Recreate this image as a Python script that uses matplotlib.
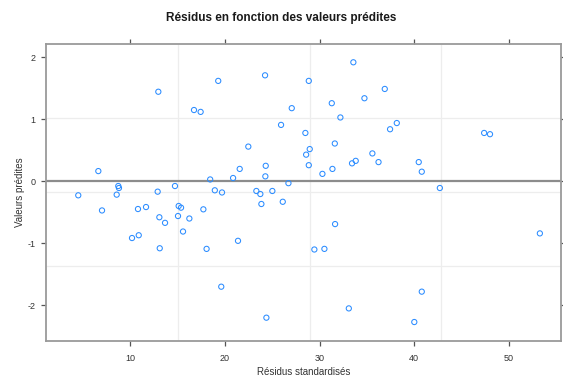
import numpy as np
import matplotlib
matplotlib.use("Agg")
import matplotlib.pyplot as plt

plt.rcParams['font.family'] = ['Liberation Sans', 'DejaVu Sans']
plt.rcParams['axes.unicode_minus'] = False

# residus standardises (x) et valeurs predites (y)
res_x = [12.95, 16.72, 17.42, 19.28, 6.61, 18.43, 8.72, 8.79, 14.71, 4.49,
         8.55, 12.88, 18.92, 7.0, 10.8, 11.65, 15.1, 15.35, 17.71, 13.06,
         13.66, 15.03, 16.23, 15.56, 10.17, 10.88, 13.1, 18.05, 19.6, 24.23,
         28.85, 33.56, 31.28, 34.73, 27.05, 32.19, 25.92, 28.49, 31.6, 22.46,
         28.95, 28.57, 35.57, 33.81, 33.42, 36.22, 21.55, 24.3, 28.85, 31.35,
         30.29, 20.85, 24.26, 26.7, 19.68, 23.31, 23.73, 25.0, 23.84, 26.1,
         31.63, 21.37, 29.44, 30.5, 24.37, 33.08, 36.88, 38.15, 37.44, 47.38,
         48.0, 40.47, 40.79, 42.7, 53.27, 40.79, 40.0]
pred_y = [1.445, 1.15, 1.12, 1.62, 0.165, 0.03, -0.076, -0.108, -0.076, -0.226,
          -0.215, -0.167, -0.145, -0.47, -0.447, -0.415, -0.398, -0.425, -0.452, -0.58,
          -0.67, -0.56, -0.6, -0.81, -0.915, -0.87, -1.08, -1.09, -1.70, 1.71,
          1.62, 1.92, 1.26, 1.34, 1.18, 1.03, 0.91, 0.78, 0.61, 0.56,
          0.52, 0.43, 0.45, 0.33, 0.29, 0.31, 0.20, 0.25, 0.26, 0.20,
          0.12, 0.053, 0.08, -0.03, -0.18, -0.156, -0.205, -0.156, -0.366, -0.33,
          -0.69, -0.96, -1.10, -1.09, -2.20, -2.05, 1.49, 0.94, 0.84, 0.78,
          0.76, 0.31, 0.155, -0.108, -0.84, -1.78, -2.27]

grid_x = [15.05, 28.95, 42.8]
grid_y = [1.02, -0.18, -1.37]
xticks = [10, 20, 30, 40, 50]
yticks = [-2, -1, 0, 1, 2]

fig = plt.figure(figsize=(5.63, 3.81), dpi=100)
ax = fig.add_axes([0.0817, 0.105, 0.9147, 0.7795])

for g in grid_x:
    ax.axvline(g, color='#ededed', lw=0.9, zorder=0)
for g in grid_y:
    ax.axhline(g, color='#ededed', lw=0.9, zorder=0)
ax.axhline(0, color='#8c8c8c', lw=1.6, zorder=1)

ax.scatter(res_x, pred_y, s=14, facecolors='none', edgecolors='#2b8cff',
           linewidths=0.75, zorder=3)

ax.set_xlim(1.08, 55.5)
ax.set_ylim(-2.576, 2.215)
ax.set_xticks(xticks)
ax.set_yticks(yticks)
ax.tick_params(direction='out', length=3.5, width=0.9, color='#555555',
               labelsize=6.5, labelcolor='#333333', top=True, right=True,
               labeltop=False, labelright=False)
ax.tick_params(axis='x', pad=6)
ax.tick_params(axis='y', pad=4)
for sp in ax.spines.values():
    sp.set_color('#9a9a9a')
    sp.set_linewidth(1.3)

ax.set_xlabel('Résidus standardisés', fontsize=7, color='#333333', labelpad=3)
ax.set_ylabel('Valeurs prédites', fontsize=7, color='#333333', labelpad=2)
fig.text(0.5, 0.953, 'Résidus en fonction des valeurs prédites',
         ha='center', va='center', fontsize=8.5, fontweight='bold', color='#1a1a1a')

fig.savefig('out.png', dpi=100)
